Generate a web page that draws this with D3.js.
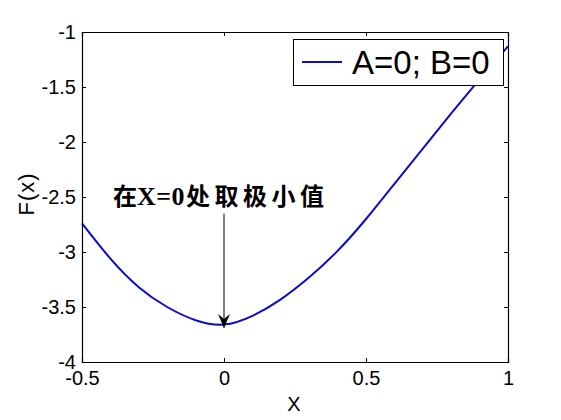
<!DOCTYPE html>
<html>
<head>
<meta charset="utf-8">
<script src="https://cdn.jsdelivr.net/npm/d3@7"></script>
<style>
  html, body { margin: 0; padding: 0; background: #fff; }
  svg { display: block; }
</style>
</head>
<body>
<svg id="chart" width="561" height="420" font-family="Arial, 'Liberation Sans', sans-serif"></svg>
<script>
// ---- data ----
const xValues = [-0.5, -0.4, -0.3, -0.2, -0.1, 0, 0.1, 0.2, 0.3, 0.4, 0.5, 0.6, 0.7, 0.8, 0.9, 1.0];
const fValues = [-2.74, -3.06, -3.32, -3.50, -3.62, -3.66, -3.58, -3.43, -3.23, -2.99, -2.70, -2.38, -2.06, -1.74, -1.43, -1.13];
const xTicks = [-0.5, 0, 0.5, 1];
const yTicks = [-4, -3.5, -3, -2.5, -2, -1.5, -1];
const legendLabel = "A=0; B=0";
const annotationParts = ["在", "X=0", "处取极小值"];
const annotationPoint = { x: 0, yStart: -2.65, yEnd: -3.69 };
const xLabel = "X";
const yLabel = "F(x)";

// ---- layout ----
const margin = { left: 82, right: 508, top: 32, bottom: 362 };
const svg = d3.select("#chart");

const x = d3.scaleLinear().domain([-0.5, 1]).range([margin.left, margin.right]);
const y = d3.scaleLinear().domain([-4, -1]).range([margin.bottom, margin.top]);

const fmt = d => String(d);

// curve
const data = xValues.map((v, i) => ({ x: v, y: fValues[i] }));
svg.append("path")
  .datum(data)
  .attr("fill", "none")
  .attr("stroke", "#0a0ad2")
  .attr("stroke-width", 2)
  .attr("d", d3.line().x(d => x(d.x)).y(d => y(d.y)).curve(d3.curveNatural));

// axes (ticks inward, mirrored)
const tl = 4;
const axB = svg.append("g").attr("transform", `translate(0,${margin.bottom})`)
  .call(d3.axisBottom(x).tickValues(xTicks).tickSize(-tl).tickPadding(8).tickFormat(fmt));
const axT = svg.append("g").attr("transform", `translate(0,${margin.top})`)
  .call(d3.axisTop(x).tickValues(xTicks).tickSize(-tl).tickFormat(""));
const axL = svg.append("g").attr("transform", `translate(${margin.left},0)`)
  .call(d3.axisLeft(y).tickValues(yTicks).tickSize(-tl).tickPadding(6).tickFormat(fmt));
const axR = svg.append("g").attr("transform", `translate(${margin.right},0)`)
  .call(d3.axisRight(y).tickValues(yTicks).tickSize(-tl).tickFormat(""));

[axB, axT, axL, axR].forEach(g => {
  g.attr("font-family", null).attr("font-size", null);
  g.select(".domain").attr("stroke", "#000").attr("stroke-width", 1.2);
  g.selectAll(".tick line").attr("stroke", "#000");
  g.selectAll(".tick text").attr("fill", "#000").attr("font-size", 20);
});
axB.selectAll(".tick text").attr("dy", "0.76em");
axL.selectAll(".tick text").attr("dy", "0.3em");

// axis titles
svg.append("text")
  .attr("x", x(0.25) - 1).attr("y", 411)
  .attr("text-anchor", "middle").attr("font-size", 20).attr("fill", "#000")
  .text(xLabel);
svg.append("text")
  .attr("transform", `translate(34,${194}) rotate(-90)`)
  .attr("text-anchor", "middle").attr("font-size", 22).attr("fill", "#000")
  .attr("letter-spacing", 1)
  .text(yLabel);

// legend
const lg = svg.append("g");
lg.append("rect")
  .attr("x", 293.5).attr("y", 39.5).attr("width", 210).attr("height", 46)
  .attr("fill", "#fff").attr("stroke", "#000").attr("stroke-width", 1);
lg.append("line")
  .attr("x1", 302).attr("x2", 342).attr("y1", 62).attr("y2", 62)
  .attr("stroke", "#0a0ad2").attr("stroke-width", 2);
lg.append("text")
  .attr("x", 352).attr("y", 74)
  .attr("font-size", 33).attr("fill", "#000")
  .text(legendLabel);

// annotation
svg.append("defs").append("marker")
  .attr("id", "arrowhead")
  .attr("viewBox", "0 0 12 14")
  .attr("refX", 6).attr("refY", 14)
  .attr("markerWidth", 12).attr("markerHeight", 14)
  .attr("markerUnits", "userSpaceOnUse")
  .attr("orient", "0")
  .append("path")
  .attr("d", "M0,0 L6,5 L12,0 L6,14 Z")
  .attr("fill", "#000");

svg.append("line")
  .attr("x1", x(annotationPoint.x)).attr("x2", x(annotationPoint.x))
  .attr("y1", y(annotationPoint.yStart)).attr("y2", y(annotationPoint.yEnd))
  .attr("stroke", "#000").attr("stroke-width", 1)
  .attr("marker-end", "url(#arrowhead)");

const ann = svg.append("text")
  .attr("x", 113).attr("y", 205)
  .attr("font-weight", "bold")
  .style("font-family", "'Liberation Serif', 'Noto Sans CJK SC', serif")
  .attr("fill", "#000");
ann.append("tspan").attr("font-size", 24).attr("letter-spacing", 0).text(annotationParts[0]);
ann.append("tspan").attr("font-size", 26).attr("letter-spacing", 0.5).text(annotationParts[1]);
ann.append("tspan").attr("font-size", 24).attr("letter-spacing", 4.5).attr("dx", 1).text(annotationParts[2]);
</script>
</body>
</html>
